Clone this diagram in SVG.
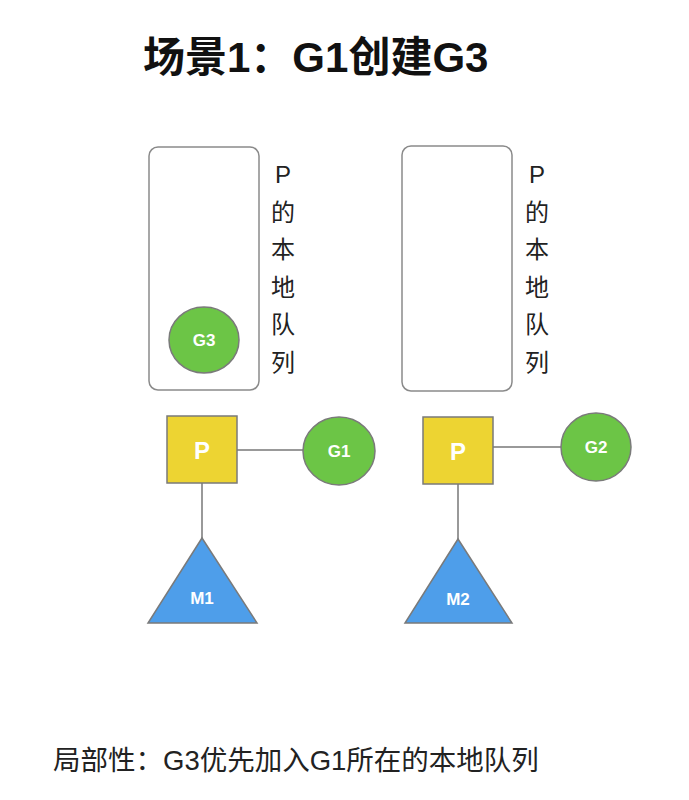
<svg xmlns="http://www.w3.org/2000/svg" width="689" height="800" viewBox="0 0 689 800">
<style>
.queue{fill:#fff;stroke:#8a8a8a;stroke-width:1.5}
.p{fill:#EDD432;stroke:#7a7a7a;stroke-width:1.5}
.g{fill:#6CC546;stroke:#7a7a7a;stroke-width:1.5}
.m{fill:#4E9EEA;stroke:#7a7a7a;stroke-width:1.5}
.lbl{font-family:"Liberation Sans",Arial,sans-serif;font-weight:bold;fill:#fff;text-anchor:middle}
.vt{font-family:"Liberation Sans","Noto Sans CJK SC",sans-serif;font-size:24px;fill:#222;text-anchor:middle}
.conn{stroke:#777;stroke-width:1.5;fill:none}
</style>
<rect width="689" height="800" fill="#fff"/>
<text x="143" y="72" font-family="'Liberation Sans','Noto Sans CJK SC',sans-serif" font-weight="bold" font-size="42" fill="#111">场景1：G1创建G3</text>
<g id="connectors">
<line class="conn" x1="237" y1="450" x2="303" y2="450"/>
<line class="conn" x1="202" y1="483" x2="202" y2="538"/>
<line class="conn" x1="493" y1="447" x2="561" y2="447"/>
<line class="conn" x1="458" y1="484" x2="458" y2="539"/>
</g>
<g id="queue1">
<rect class="queue" x="149" y="147" width="110" height="243" rx="9"/>
<text class="vt" x="283" y="183">P</text>
<text class="vt" x="283" y="221">的</text>
<text class="vt" x="283" y="258">本</text>
<text class="vt" x="283" y="296">地</text>
<text class="vt" x="283" y="333">队</text>
<text class="vt" x="283" y="371">列</text>
</g>
<g id="G3">
<ellipse class="g" cx="204" cy="340" rx="35" ry="33"/>
<text class="lbl" x="204" y="346" font-size="17">G3</text>
</g>
<g id="P1">
<rect class="p" x="167" y="416" width="70" height="67"/>
<text class="lbl" x="202" y="459" font-size="24">P</text>
</g>
<g id="G1">
<ellipse class="g" cx="339" cy="451" rx="36" ry="34"/>
<text class="lbl" x="339" y="457" font-size="17">G1</text>
</g>
<g id="M1">
<polygon class="m" points="202,538 257,623 148,623"/>
<text class="lbl" x="202" y="604" font-size="17">M1</text>
</g>
<g id="queue2">
<rect class="queue" x="402" y="146" width="110" height="245" rx="9"/>
<text class="vt" x="537" y="183">P</text>
<text class="vt" x="537" y="221">的</text>
<text class="vt" x="537" y="258">本</text>
<text class="vt" x="537" y="296">地</text>
<text class="vt" x="537" y="333">队</text>
<text class="vt" x="537" y="371">列</text>
</g>
<g id="P2">
<rect class="p" x="423" y="417" width="70" height="67"/>
<text class="lbl" x="458" y="460" font-size="24">P</text>
</g>
<g id="G2">
<ellipse class="g" cx="596" cy="447" rx="35" ry="34"/>
<text class="lbl" x="596" y="453" font-size="17">G2</text>
</g>
<g id="M2">
<polygon class="m" points="458,539 512,623 405,623"/>
<text class="lbl" x="458" y="605" font-size="17">M2</text>
</g>
<text x="53" y="770" font-family="'Liberation Sans','Noto Sans CJK SC',sans-serif" font-size="27.5" fill="#222">局部性：G3优先加入G1所在的本地队列</text>
</svg>
